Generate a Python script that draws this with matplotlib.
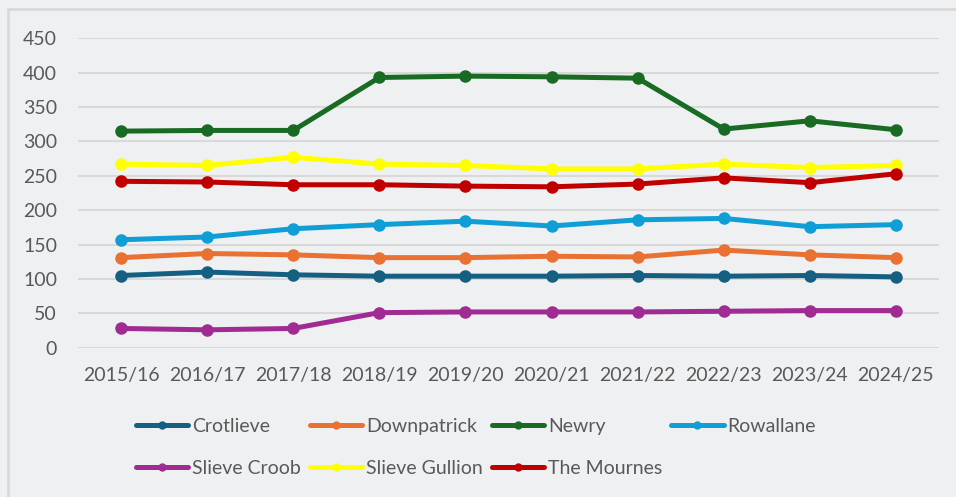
import matplotlib.pyplot as plt
from matplotlib.patches import Rectangle
from matplotlib.lines import Line2D

plt.rcParams['font.family'] = ['Lato', 'DejaVu Sans']

years = ['2015/16', '2016/17', '2017/18', '2018/19', '2019/20',
         '2020/21', '2021/22', '2022/23', '2023/24', '2024/25']

crotlieve = [105, 110, 106, 104, 104, 104, 105, 104, 105, 103]
downpatrick = [131, 137, 135, 131, 131, 133, 132, 142, 135, 131]
newry = [315, 316, 316, 393, 395, 394, 392, 318, 330, 317]
rowallane = [157, 161, 173, 179, 184, 177, 186, 188, 176, 179]
slieve_croob = [28, 26, 28, 51, 52, 52, 52, 53, 54, 54]
slieve_gullion = [267, 265, 277, 267, 265, 260, 260, 267, 262, 265]
the_mournes = [242, 241, 237, 237, 235, 234, 238, 247, 240, 253]

names = ['Crotlieve', 'Downpatrick', 'Newry', 'Rowallane',
         'Slieve Croob', 'Slieve Gullion', 'The Mournes']
series = [crotlieve, downpatrick, newry, rowallane,
          slieve_croob, slieve_gullion, the_mournes]
colors = ['#156082', '#E97132', '#196B24', '#0F9ED5',
          '#A02B93', '#FFFF00', '#C00000']

bg = '#EEF0F2'
txt = '#595959'

fig = plt.figure(figsize=(9.56, 4.97), dpi=100, facecolor=bg)
# chart frame
fig.patches.append(Rectangle((8 / 956, -0.1), 1.2, (497 - 9) / 497 + 0.1,
                             transform=fig.transFigure, facecolor=bg,
                             edgecolor='#D9D9D9', linewidth=2, zorder=-1))

ax = fig.add_axes([78 / 956, 149.3 / 497, 861 / 956, 309.4 / 497])
ax.set_zorder(1)
ax.patch.set_alpha(0)

x = list(range(len(years)))
for vals, c in zip(series, colors):
    ax.plot(x, vals, color=c, linewidth=3.6, marker='o', markersize=8,
            solid_capstyle='round', zorder=3)

ax.set_xlim(-0.5, len(years) - 0.5)
ax.set_ylim(0, 450)
ax.set_yticks(range(0, 451, 50))
ax.set_xticks(x)
ax.set_xticklabels(years)
ax.grid(axis='y', color='#D9D9D9', linewidth=1.5)
ax.set_axisbelow(True)
for s in ax.spines.values():
    s.set_visible(False)
ax.tick_params(length=0, labelsize=14, labelcolor=txt)
ax.tick_params(axis='x', pad=14)
ax.tick_params(axis='y', pad=15)

# legend fills column-wise, so reorder to get the rows right
order = [0, 4, 1, 5, 2, 6, 3]
handles = [Line2D([], [], color=colors[i], linewidth=3.6, marker='o',
                  markersize=5, solid_capstyle='round') for i in order]
labels = [names[i] for i in order]
leg = fig.legend(handles, labels, ncol=4, loc='upper left',
                 bbox_to_anchor=(128 / 956, 1 - 410 / 497), frameon=False,
                 fontsize=14, handlelength=2.7, handletextpad=0.2,
                 columnspacing=0.45, labelspacing=1.3, borderaxespad=0)
for t in leg.get_texts():
    t.set_color(txt)

fig.savefig('out.png', dpi=100, facecolor=bg)
